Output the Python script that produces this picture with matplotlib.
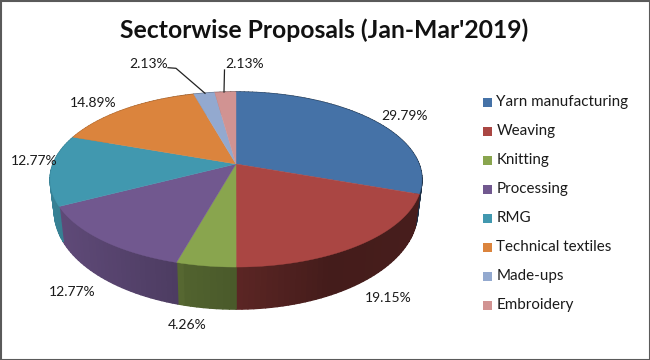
import numpy as np
import matplotlib
matplotlib.use("Agg")
import matplotlib.pyplot as plt
from matplotlib.patches import Rectangle
from matplotlib.collections import PolyCollection

categories = ["Yarn manufacturing", "Weaving", "Knitting", "Processing", "RMG",
              "Technical textiles", "Made-ups", "Embroidery"]
shares = [29.79, 19.15, 4.26, 12.77, 12.77, 14.89, 2.13, 2.13]
share_labels = ["29.79%", "19.15%", "4.26%", "12.77%", "12.77%", "14.89%", "2.13%", "2.13%"]
colors = ["#4572A7", "#AA4643", "#89A54E", "#71588F", "#4198AF", "#DB843D", "#93A9CF", "#D19392"]
title = "Sectorwise Proposals (Jan-Mar'2019)"

plt.rcParams['font.family'] = ['Lato', 'DejaVu Sans']
fig = plt.figure(figsize=(6.5, 3.6), dpi=100)
ax = fig.add_axes([0, 0, 1, 1])
ax.set_xlim(0, 650)
ax.set_ylim(360, 0)
ax.axis("off")

# perspective view of the pie disc
CX, CY = 236.0, 164.0
K = 0.177
SX, SY = 183.0, 84.8
ELL_Y = 180.0
BASE_SX, BASE_SY, BASE_Y = 0.977, 1.116, 212.0


def top_xy(theta):
    u, v = np.sin(theta), np.cos(theta)
    w = 1 + K * v
    return CX + SX * u / w, CY - SY * v / w


def base_xy(theta):
    x, y = top_xy(theta)
    return CX + (x - CX) * BASE_SX, BASE_Y + (y - ELL_Y) * BASE_SY


def wall_factor(x):
    return np.interp(x, [50, 177, 181, 236, 330, 425], [0.85, 0.68, 0.60, 0.54, 0.40, 0.42])


fractions = np.array(shares) / np.sum(shares)
edges = np.concatenate([[0], np.cumsum(fractions)]) * 2 * np.pi

# side walls first
for i, col in enumerate(colors):
    th = np.linspace(edges[i], edges[i + 1], max(4, int(fractions[i] * 240)))
    rgb = np.array(matplotlib.colors.to_rgb(col))
    polys, cols = [], []
    for a, b in zip(th[:-1], th[1:]):
        xa, ya = top_xy(a)
        xb, yb = top_xy(b)
        xc, yc = base_xy(b)
        xd, yd = base_xy(a)
        polys.append([(xa, ya), (xb, yb), (xc, yc), (xd, yd)])
        cols.append(tuple(rgb * wall_factor((xa + xb) / 2)))
    ax.add_collection(PolyCollection(polys, facecolors=cols, edgecolors=cols, linewidths=1.0, zorder=2))

# top face
for i, col in enumerate(colors):
    th = np.linspace(edges[i], edges[i + 1], max(8, int(fractions[i] * 360)))
    xs, ys = top_xy(th)
    ax.fill(np.r_[CX, xs], np.r_[CY, ys], color=col, lw=0.3, zorder=3)

# data labels
label_pos = [(405, 116), (388, 298), (187, 325), (72, 292), (34, 161), (93, 103), (149, 64), (245, 64)]
for (lx, ly), s in zip(label_pos, share_labels):
    ax.text(lx, ly, s, ha="center", va="center", fontsize=10, color="#1a1a1a", zorder=5)

# leader lines for the two thin slices
ax.plot([168, 176, 205], [67.7, 68.3, 93.3], color="#222222", lw=0.9, zorder=4)
ax.plot([224.5, 224], [70, 92], color="#222222", lw=0.9, zorder=4)

# legend
for i, (name, col) in enumerate(zip(categories, colors)):
    y = 102 + i * 29.0
    ax.add_patch(Rectangle((483, y - 4.5), 9, 9, facecolor=col, edgecolor="none"))
    ax.text(496.5, y, name, ha="left", va="center", fontsize=10.9, color="#1a1a1a")

ax.text(324, 30, title, ha="center", va="center", fontsize=17.8, fontweight="bold", color="#111111")

# outer frame
ax.add_patch(Rectangle((0.5, 0.5), 649, 359, facecolor="none", edgecolor="#5a5a5a", lw=1.5, zorder=6))

fig.savefig("out.png", dpi=100, facecolor="white")
